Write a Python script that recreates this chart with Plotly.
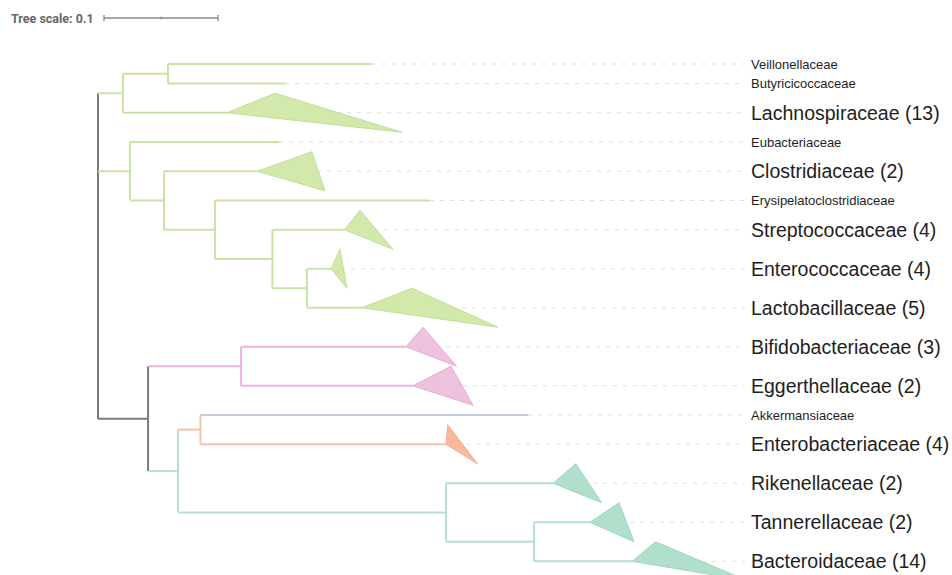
import plotly.graph_objects as go

# ---- tree: nodes in depth-first order, parent index, branch length ----
NODE = [
    "root", "n_firm_a", "n_firm_a1", "Veillonellaceae", "Butyricicoccaceae",
    "Lachnospiraceae", "n_firm_b", "Eubacteriaceae", "n_firm_c", "Clostridiaceae",
    "n_firm_d", "Erysipelatoclostridiaceae", "n_firm_e", "Streptococcaceae",
    "n_firm_f", "Enterococcaceae", "Lactobacillaceae", "n_rest", "n_actino",
    "Bifidobacteriaceae", "Eggerthellaceae", "n_gram_neg", "n_proteo_verruco",
    "Akkermansiaceae", "Enterobacteriaceae", "n_bacteroid", "Rikenellaceae",
    "n_bacteroid_b", "Tannerellaceae", "Bacteroidaceae",
]
PARENT = [
    -1, 0, 1, 2, 2,
    1, 0, 6, 6, 8,
    8, 10, 10, 12,
    12, 14, 14, 0, 17,
    18, 18, 17, 21,
    22, 22, 21, 25,
    25, 27, 27,
]
LENGTH = [
    0.0, 0.0219, 0.0395, 0.1789, 0.1026,
    0.0912, 0.0281, 0.1307, 0.0298, 0.0816,
    0.0447, 0.1886, 0.0504, 0.0632,
    0.0303, 0.0211, 0.0482, 0.0439, 0.0816,
    0.1447, 0.1506, 0.0263, 0.0197,
    0.2875, 0.2154, 0.2351, 0.0939,
    0.0772, 0.0491, 0.0862,
]
GROUP = [
    "none", "Firmicutes", "Firmicutes", "Firmicutes", "Firmicutes",
    "Firmicutes", "Firmicutes", "Firmicutes", "Firmicutes", "Firmicutes",
    "Firmicutes", "Firmicutes", "Firmicutes", "Firmicutes",
    "Firmicutes", "Firmicutes", "Firmicutes", "none", "Actinobacteria",
    "Actinobacteria", "Actinobacteria", "Bacteroidetes", "Proteobacteria",
    "Verrucomicrobia", "Proteobacteria", "Bacteroidetes", "Bacteroidetes",
    "Bacteroidetes", "Bacteroidetes", "Bacteroidetes",
]

# collapsed families: number of members, and depth of nearest / farthest
# member measured from the clade's root
CLADE_NAME = [
    "Lachnospiraceae", "Clostridiaceae", "Streptococcaceae", "Enterococcaceae",
    "Lactobacillaceae", "Bifidobacteriaceae", "Eggerthellaceae",
    "Enterobacteriaceae", "Rikenellaceae", "Tannerellaceae", "Bacteroidaceae",
]
CLADE_SIZE = [13, 2, 4, 4, 5, 3, 2, 4, 2, 2, 14]
CLADE_NEAR = [0.0421, 0.0482, 0.0136, 0.0079, 0.0439, 0.0149, 0.0336,
              0.0015, 0.0199, 0.0254, 0.0204]
CLADE_FAR = [0.1535, 0.0596, 0.0425, 0.0140, 0.1193, 0.0443, 0.0529,
             0.0275, 0.0427, 0.0386, 0.1010]

TREE_SCALE = 0.1

# ---- styling ----
LINE_COLOR = {
    "none": "#7b7b7b",
    "Firmicutes": "#c8e4a4",
    "Actinobacteria": "#eeb2db",
    "Proteobacteria": "#f8c2a8",
    "Verrucomicrobia": "#c2c8e6",
    "Bacteroidetes": "#b4e0d0",
}
FILL_COLOR = {
    "Firmicutes": "#d2e9ab",
    "Actinobacteria": "#eec1de",
    "Proteobacteria": "#f9b99d",
    "Bacteroidetes": "#b0dfcb",
}
EDGE_COLOR = {
    "Firmicutes": "#bfe095",
    "Actinobacteria": "#e8acd4",
    "Proteobacteria": "#f6ab8a",
    "Bacteroidetes": "#9fd8c1",
}

W, H = 952, 575
PX_PER_UNIT = 1140.0      # horizontal pixels per unit of branch length
ROW_PX = 19.5             # pixels per row unit
ROOT_PX = 98.0            # pixel position of the root
TOP_PX = 54.25            # pixel position of the top of the first row
LABEL_PX = 752.0
DASH_END_PX = 745.0

# ---- layout of the tree ----
n = len(NODE)
children = [[] for _ in range(n)]
for i, p in enumerate(PARENT):
    if p >= 0:
        children[p].append(i)

clade_of = {name: k for k, name in enumerate(CLADE_NAME)}

xpos = [0.0] * n
for i in range(1, n):
    xpos[i] = xpos[PARENT[i]] + LENGTH[i]

ypos = [0.0] * n
cursor = [0.0]


def place(i):
    if not children[i]:
        h = 2.0 if NODE[i] in clade_of else 1.0
        ypos[i] = cursor[0] + h / 2
        cursor[0] += h
    else:
        for c in children[i]:
            place(c)
        ypos[i] = (ypos[children[i][0]] + ypos[children[i][-1]]) / 2


place(0)


def px_to_x(px):
    return (px - ROOT_PX) / PX_PER_UNIT


def px_to_y(px):
    return (px - TOP_PX) / ROW_PX


fig = go.Figure()

label_x = px_to_x(LABEL_PX)
dash_x = px_to_x(DASH_END_PX)
leaves = [i for i in range(n) if not children[i]]

# dashed leader lines from each tip to its label
dx, dy = [], []
for i in leaves:
    dx += [xpos[i], dash_x, None]
    dy += [ypos[i], ypos[i], None]
fig.add_trace(go.Scatter(x=dx, y=dy, mode="lines", hoverinfo="skip",
                         line=dict(color="#dddddd", width=1.2, dash="4px,6px")))

# branches, grouped by colour
segs = {}
for i in range(n):
    g = GROUP[i]
    sx, sy = segs.setdefault(g, ([], []))
    if PARENT[i] >= 0:
        sx += [xpos[PARENT[i]], xpos[i], None]
        sy += [ypos[i], ypos[i], None]
    if children[i]:
        sx += [xpos[i], xpos[i], None]
        sy += [ypos[children[i][0]], ypos[children[i][-1]], None]
for g, (sx, sy) in segs.items():
    fig.add_trace(go.Scatter(x=sx, y=sy, mode="lines", hoverinfo="skip",
                             line=dict(color=LINE_COLOR[g], width=2)))

# collapsed clades as triangles
for i in leaves:
    if NODE[i] not in clade_of:
        continue
    k = clade_of[NODE[i]]
    x0, y0 = xpos[i], ypos[i]
    g = GROUP[i]
    fig.add_trace(go.Scatter(
        x=[x0, x0 + CLADE_NEAR[k], x0 + CLADE_FAR[k], x0],
        y=[y0, y0 - 1.0, y0 + 1.0, y0],
        mode="lines", fill="toself", fillcolor=FILL_COLOR[g],
        line=dict(color=EDGE_COLOR[g], width=1), hoverinfo="skip"))

# tip labels
for i in leaves:
    name = NODE[i]
    if name in clade_of:
        text = f"{name} ({CLADE_SIZE[clade_of[name]]})"
        size = 19.5
    else:
        text = name
        size = 13
    fig.add_annotation(x=label_x, y=ypos[i], text=text, showarrow=False,
                       xanchor="left", yanchor="middle", xshift=-3,
                       font=dict(family="Liberation Sans, Arial, sans-serif",
                                 size=size, color="#1e1e1e"))

# tree scale bar
sb_y = px_to_y(18)
sb_x0 = px_to_x(104)
sb_x1 = sb_x0 + TREE_SCALE
tick = 3.0 / ROW_PX
fig.add_trace(go.Scatter(
    x=[sb_x0, sb_x1, None, sb_x0, sb_x0, None, sb_x1, sb_x1, None,
       (sb_x0 + sb_x1) / 2, (sb_x0 + sb_x1) / 2],
    y=[sb_y, sb_y, None, sb_y - tick, sb_y + tick, None, sb_y - tick, sb_y + tick, None,
       sb_y - tick * 0.4, sb_y + tick * 0.4],
    mode="lines", line=dict(color="#8a8a8a", width=1.3), hoverinfo="skip"))
fig.add_annotation(x=px_to_x(12), y=sb_y, text=f"<b>Tree scale: {TREE_SCALE:g}</b>",
                   showarrow=False, xanchor="left", yanchor="middle", xshift=-3,
                   font=dict(family="Roboto, Liberation Sans, sans-serif",
                             size=12.5, color="#666666"))

fig.update_layout(
    width=W, height=H, margin=dict(l=0, r=0, t=0, b=0),
    paper_bgcolor="white", plot_bgcolor="white", showlegend=False,
    xaxis=dict(range=[px_to_x(0), px_to_x(W)], visible=False, fixedrange=True),
    yaxis=dict(range=[px_to_y(H), px_to_y(0)], visible=False, fixedrange=True),
)

fig.write_html("out.html")
